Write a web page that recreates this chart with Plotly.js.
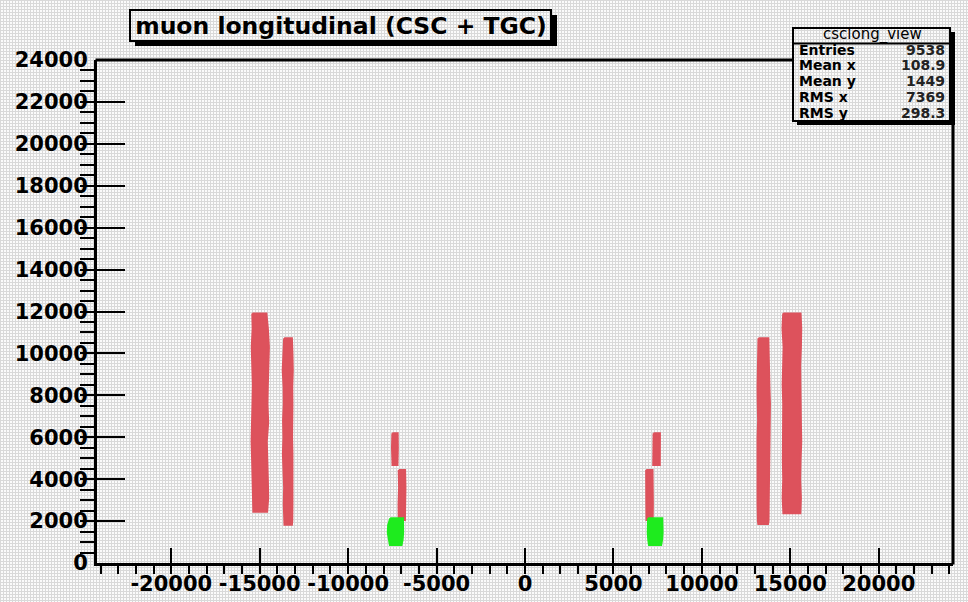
<!DOCTYPE html>
<html><head><meta charset="utf-8">
<script src="https://cdn.plot.ly/plotly-3.0.1.min.js"></script>
<style>
html,body{margin:0;padding:0;background:#fff;}
#chart{width:968px;height:602px;background-color:#fbfbfb;
background-image:linear-gradient(#d9d9d9 1px, transparent 1px),linear-gradient(90deg,#d9d9d9 1px, transparent 1px);
background-size:3px 3px;}
</style></head><body><div id="chart"></div><script>
// ---- chart texts ----
const chartTitle = 'muon longitudinal (CSC + TGC)';
const statsName = 'csclong_view';
const statsLabels = ['Entries', 'Mean x', 'Mean y', 'RMS x', 'RMS y'];
const statsValues = ['9538', '108.9', '1449', '7369', '298.3'];

// ---- axis ticks ----
const xTickVals = [-20000, -15000, -10000, -5000, 0, 5000, 10000, 15000, 20000];
const yTickVals = [0, 2000, 4000, 6000, 8000, 10000, 12000, 14000, 16000, 18000, 20000, 22000, 24000];

// ---- hit bands: y levels with left / right x edges ----
// TGC (red), negative side, outer
const tgcL1Y      = [11910, 11200, 10300, 9400, 8500, 7600, 6700, 5800, 4900, 4000, 3100, 2450];
const tgcL1XLeft  = [-15420, -15400, -15450, -15420, -15390, -15410, -15440, -15460, -15430, -15400, -15380, -15360];
const tgcL1XRight = [-14620, -14540, -14480, -14500, -14540, -14560, -14520, -14600, -14580, -14540, -14520, -14580];
// TGC (red), negative side, inner
const tgcL2Y      = [10720, 10000, 9200, 8400, 7600, 6800, 6000, 5200, 4400, 3600, 2800, 2000, 1820];
const tgcL2XLeft  = [-13620, -13660, -13700, -13650, -13640, -13680, -13660, -13690, -13650, -13620, -13640, -13630, -13600];
const tgcL2XRight = [-13180, -13150, -13130, -13160, -13150, -13140, -13170, -13150, -13130, -13140, -13150, -13160, -13180];
// TGC (red), positive side, inner
const tgcR2Y      = [10720, 10000, 9200, 8400, 7600, 6800, 6000, 5200, 4400, 3600, 2800, 2000, 1860];
const tgcR2XLeft  = [13200, 13180, 13170, 13150, 13160, 13180, 13150, 13140, 13170, 13160, 13150, 13170, 13190];
const tgcR2XRight = [13760, 13800, 13790, 13820, 13850, 13840, 13860, 13830, 13800, 13790, 13780, 13770, 13740];
// TGC (red), positive side, outer
const tgcR1Y      = [11910, 11200, 10300, 9400, 8500, 7600, 6700, 5800, 4900, 4000, 3100, 2370];
const tgcR1XLeft  = [14600, 14560, 14620, 14580, 14570, 14600, 14590, 14560, 14580, 14600, 14570, 14610];
const tgcR1XRight = [15580, 15620, 15600, 15560, 15610, 15590, 15600, 15620, 15580, 15560, 15600, 15570];
// CSC-region red segments
const cscLUY      = [6190, 5500, 4680];
const cscLUXLeft  = [-7500, -7520, -7490];
const cscLUXRight = [-7200, -7190, -7210];
const cscLLY      = [4440, 3600, 2800, 2050];
const cscLLXLeft  = [-7140, -7120, -7150, -7140];
const cscLLXRight = [-6780, -6760, -6770, -6790];
const cscRUY      = [6190, 5500, 4680];
const cscRUXLeft  = [7270, 7260, 7250];
const cscRUXRight = [7630, 7640, 7620];
const cscRLY      = [4440, 3600, 2800, 2050];
const cscRLXLeft  = [6850, 6840, 6860, 6870];
const cscRLXRight = [7210, 7220, 7230, 7220];
// CSC (green)
const cscGLY      = [2130, 1800, 1450, 1100, 860];
const cscGLXLeft  = [-7620, -7740, -7760, -7700, -7640];
const cscGLXRight = [-6900, -6880, -6890, -6920, -6980];
const cscGRY      = [2130, 1800, 1450, 1100, 860];
const cscGRXLeft  = [6960, 6930, 6940, 6970, 7010];
const cscGRXRight = [7760, 7790, 7780, 7750, 7700];

const RED = 'rgb(221,82,92)';
const GREEN = 'rgb(30,235,30)';

function band(ys, xl, xr, color) {
  const x = xl.concat(xr.slice().reverse(), [xl[0]]);
  const y = ys.concat(ys.slice().reverse(), [ys[0]]);
  return {type: 'scatter', mode: 'lines', x: x, y: y, fill: 'toself',
    fillcolor: color, line: {color: color, width: 2}, hoverinfo: 'skip', showlegend: false};
}

const traces = [
  band(tgcL1Y, tgcL1XLeft, tgcL1XRight, RED),
  band(tgcL2Y, tgcL2XLeft, tgcL2XRight, RED),
  band(tgcR2Y, tgcR2XLeft, tgcR2XRight, RED),
  band(tgcR1Y, tgcR1XLeft, tgcR1XRight, RED),
  band(cscLUY, cscLUXLeft, cscLUXRight, RED),
  band(cscLLY, cscLLXLeft, cscLLXRight, RED),
  band(cscRUY, cscRUXLeft, cscRUXRight, RED),
  band(cscRLY, cscRLXLeft, cscRLXRight, RED),
  band(cscGLY, cscGLXLeft, cscGLXRight, GREEN),
  band(cscGRY, cscGRXLeft, cscGRXRight, GREEN)
];

// ---- pixel layout helpers ----
const W = 968, H = 602, L = 97, R = 953, T = 60, B = 563;
const px = v => (v - L) / (R - L);
const py = v => (B - v) / (B - T);

const FONT = 'DejaVu Sans, Liberation Sans, Arial, sans-serif';

const shapes = [
  // frame top & right
  {type: 'line', xref: 'paper', yref: 'paper', x0: px(95.5), x1: px(793), y0: py(60), y1: py(60), line: {color: 'black', width: 3}},
  {type: 'line', xref: 'paper', yref: 'paper', x0: px(953), x1: px(953), y0: py(123), y1: py(564.5), line: {color: 'black', width: 3}},
  // title box + shadow
  {type: 'rect', xref: 'paper', yref: 'paper', x0: px(551), x1: px(557), y0: py(15), y1: py(46), fillcolor: 'black', line: {width: 0}},
  {type: 'rect', xref: 'paper', yref: 'paper', x0: px(135), x1: px(557), y0: py(41), y1: py(46), fillcolor: 'black', line: {width: 0}},
  {type: 'rect', xref: 'paper', yref: 'paper', x0: px(130), x1: px(551), y0: py(10), y1: py(41), line: {color: 'black', width: 2}},
  // stats box + shadow
  {type: 'rect', xref: 'paper', yref: 'paper', x0: px(950), x1: px(955), y0: py(32), y1: py(125), fillcolor: 'black', line: {width: 0}},
  {type: 'rect', xref: 'paper', yref: 'paper', x0: px(797), x1: px(955), y0: py(121), y1: py(125), fillcolor: 'black', line: {width: 0}},
  {type: 'rect', xref: 'paper', yref: 'paper', x0: px(793), x1: px(950), y0: py(28), y1: py(121), line: {color: 'black', width: 2}},
  {type: 'line', xref: 'paper', yref: 'paper', x0: px(793), x1: px(950), y0: py(43.5), y1: py(43.5), line: {color: 'black', width: 2}}
];

const annotations = [
  {xref: 'paper', yref: 'paper', x: px(872), y: py(35), text: statsName, showarrow: false,
   xanchor: 'center', yanchor: 'middle', font: {family: FONT, size: 15, color: 'black'}}
];
const rowY = [50, 65.5, 81, 97, 113];
statsLabels.forEach((lab, i) => {
  annotations.push({xref: 'paper', yref: 'paper', x: px(797), y: py(rowY[i]), text: lab, showarrow: false,
    xanchor: 'left', yanchor: 'middle', font: {family: FONT, size: 14, weight: 'bold', color: 'black'}});
  annotations.push({xref: 'paper', yref: 'paper', x: px(947), y: py(rowY[i]), text: statsValues[i], showarrow: false,
    xanchor: 'right', yanchor: 'middle', font: {family: FONT, size: 14, weight: 'bold', color: '#222'}});
});

const tickFont = {family: FONT, size: 21, weight: 'bold', color: 'black'};

const layout = {
  width: W, height: H,
  margin: {l: L, r: W - R, t: T, b: H - B, pad: 0},
  paper_bgcolor: 'rgba(0,0,0,0)', plot_bgcolor: 'rgba(0,0,0,0)',
  showlegend: false,
  title: {text: chartTitle, x: 341 / W, xref: 'container', xanchor: 'center',
    y: 1 - 26 / H, yref: 'container', yanchor: 'middle',
    font: {family: FONT, size: 23.5, weight: 'bold', color: 'black'}},
  xaxis: {range: [-24200, 24200], tickmode: 'array', tickvals: xTickVals,
    ticktext: xTickVals.map(String), ticks: 'inside', ticklen: 15, tickwidth: 2, tickcolor: 'black',
    showline: true, linewidth: 3, linecolor: 'black', mirror: false, showgrid: false, zeroline: false,
    minor: {tickmode: 'linear', tick0: 0, dtick: 1000, ticklen: 8, tickwidth: 2, tickcolor: 'black', showgrid: false},
    tickfont: tickFont, fixedrange: true},
  yaxis: {range: [0, 24000], tickmode: 'array', tickvals: yTickVals,
    ticktext: yTickVals.map(String), ticks: 'inside', ticklen: 28, tickwidth: 2, tickcolor: 'black',
    showline: true, linewidth: 3, linecolor: 'black', mirror: false, showgrid: false, zeroline: false,
    minor: {tickmode: 'linear', tick0: 0, dtick: 500, ticklen: 14, tickwidth: 2, tickcolor: 'black', showgrid: false},
    tickfont: tickFont, ticklabelstandoff: 2, fixedrange: true},
  shapes: shapes,
  annotations: annotations
};

Plotly.newPlot('chart', traces, layout, {displayModeBar: false, staticPlot: true});
</script></body></html>
